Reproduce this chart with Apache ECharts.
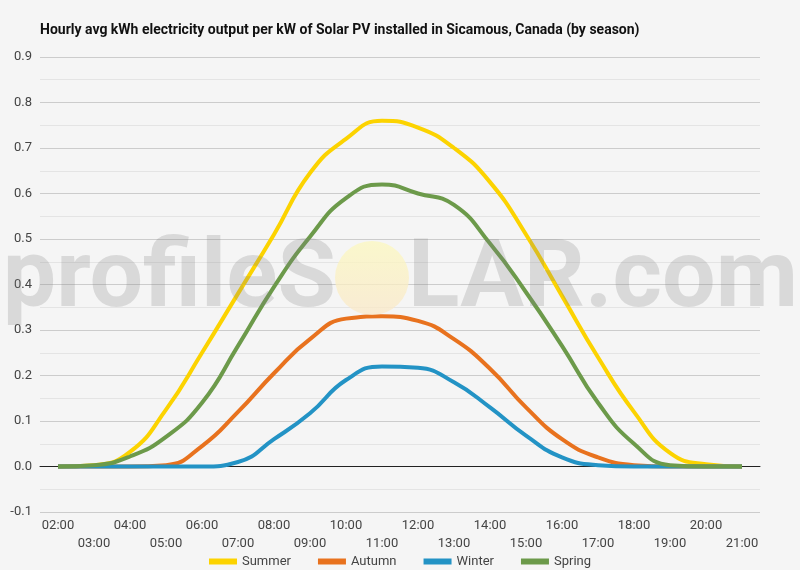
<!DOCTYPE html>
<html>
<head>
<meta charset="utf-8">
<script src="https://cdn.jsdelivr.net/npm/echarts@6/dist/echarts.min.js"></script>
<style>
html,body{margin:0;padding:0;background:#f5f5f5;}
#chart{width:800px;height:570px;}
</style>
</head>
<body>
<div id="chart"></div>
<script>
// hours of the day (category axis)
var hours = ['02:00','03:00','04:00','05:00','06:00','07:00','08:00','09:00','10:00','11:00',
             '12:00','13:00','14:00','15:00','16:00','17:00','18:00','19:00','20:00','21:00'];

// avg kWh per kW installed
var summer = [0, 0.003, 0.032, 0.125, 0.25, 0.38, 0.51, 0.645, 0.72, 0.76,
              0.745, 0.70, 0.625, 0.51, 0.375, 0.24, 0.12, 0.03, 0.005, 0];
var autumn = [0, 0, 0, 0.003, 0.045, 0.12, 0.205, 0.28, 0.325, 0.33,
              0.32, 0.28, 0.215, 0.13, 0.06, 0.02, 0.003, 0, 0, 0];
var winter = [0, 0, 0, 0, 0, 0.01, 0.06, 0.117, 0.19, 0.22,
              0.217, 0.185, 0.13, 0.068, 0.02, 0.003, 0, 0, 0, 0];
var spring = [0, 0.003, 0.022, 0.065, 0.14, 0.265, 0.395, 0.505, 0.59, 0.62,
              0.60, 0.575, 0.49, 0.383, 0.265, 0.14, 0.05, 0.003, 0, 0];

var seriesNames = ['Summer','Autumn','Winter','Spring'];
var seriesColors = ['#fcd300','#e8721e','#2393c5','#6c9a4a'];

var chart = echarts.init(document.getElementById('chart'));

function mkLine(name, data, color){
	return {
		name: name,
		type: 'line',
		data: data,
		smooth: true,
		symbol: 'none',
		lineStyle: {width: 4, color: color},
		itemStyle: {color: color}
	};
}

var wmFont = {
	fontFamily: 'Roboto',
	fontSize: 95,
	fontWeight: 'bold',
	fill: 'rgba(130,130,130,0.24)'
};

var option = {
	backgroundColor: '#f5f5f5',
	textStyle: {fontFamily: 'Roboto'},
	title: {
		text: 'Hourly avg kWh electricity output per kW of Solar PV installed in Sicamous, Canada (by season)',
		left: 35,
		top: 18,
		textStyle: {fontSize: 14, fontWeight: 'bold', color: '#111', fontFamily: 'Roboto'}
	},
	legend: {
		top: 550,
		left: 'center',
		itemWidth: 28,
		itemHeight: 6,
		itemGap: 27,
		icon: 'rect',
		textStyle: {fontSize: 13, color: '#444'},
		data: seriesNames
	},
	grid: {left: 40, right: 40, top: 57, bottom: 58},
	xAxis: {
		type: 'category',
		data: hours,
		boundaryGap: true,
		axisLine: {show: true, onZero: true, lineStyle: {color: '#222', width: 1}},
		axisTick: {show: false},
		axisLabel: {
			interval: 0,
			fontSize: 13,
			color: '#444',
			margin: 5,
			lineHeight: 18,
			formatter: function(v, i){ return i % 2 ? '\n' + v : v + '\n'; }
		},
		splitLine: {show: false}
	},
	yAxis: {
		type: 'value',
		min: -0.1,
		max: 0.9,
		interval: 0.1,
		axisLine: {show: false},
		axisTick: {show: false},
		axisLabel: {
			fontSize: 13,
			color: '#444',
			margin: 8,
			formatter: function(v){ return v.toFixed(1); }
		},
		splitLine: {show: true, lineStyle: {color: '#cccccc', width: 1}},
		minorTick: {show: false, splitNumber: 2},
		minorSplitLine: {show: true, lineStyle: {color: '#e4e4e4', width: 1}}
	},
	series: [
		mkLine(seriesNames[0], summer, seriesColors[0]),
		mkLine(seriesNames[1], autumn, seriesColors[1]),
		mkLine(seriesNames[2], winter, seriesColors[2]),
		mkLine(seriesNames[3], spring, seriesColors[3])
	],
	// watermark
	graphic: [
		{
			type: 'circle',
			z: 100,
			shape: {cx: 372, cy: 278, r: 37},
			style: {
				fill: new echarts.graphic.LinearGradient(0, 0, 0, 1, [
					{offset: 0, color: 'rgba(252,248,190,0.75)'},
					{offset: 1, color: 'rgba(250,232,200,0.75)'}
				])
			},
			silent: true
		},
		{
			type: 'text',
			z: 100,
			x: 336,
			y: 282,
			style: Object.assign({text: 'profileS', align: 'right', verticalAlign: 'middle'}, wmFont),
			silent: true
		},
		{
			type: 'text',
			z: 100,
			x: 408,
			y: 282,
			style: Object.assign({text: 'LAR.com', align: 'left', verticalAlign: 'middle'}, wmFont),
			silent: true
		}
	]
};

chart.setOption(option);
</script>
</body>
</html>
